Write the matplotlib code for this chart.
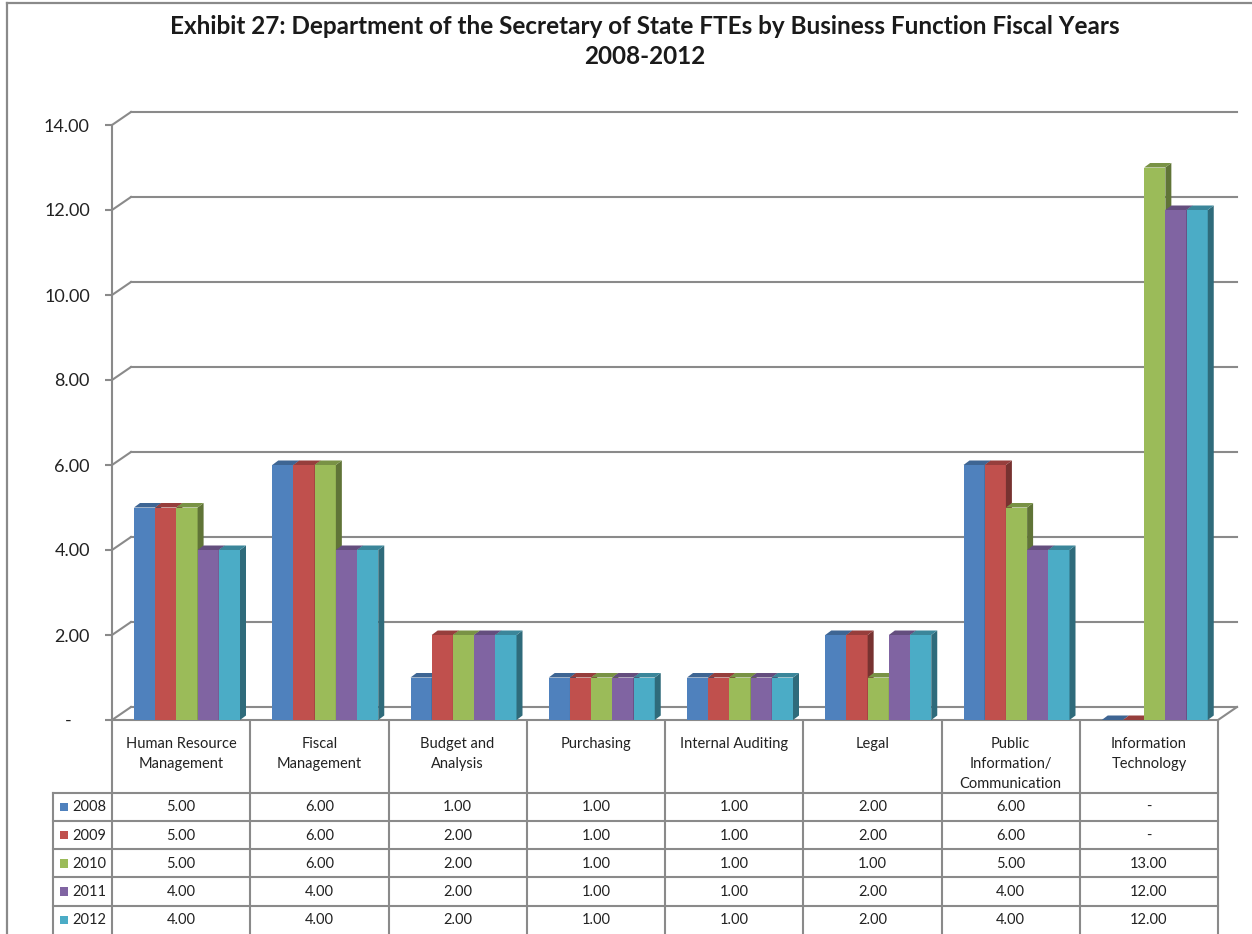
import matplotlib
matplotlib.use('Agg')
import matplotlib.pyplot as plt
from matplotlib.patches import Polygon, Rectangle
from matplotlib.lines import Line2D

# data
categories = ['Human Resource\nManagement', 'Fiscal\nManagement', 'Budget and\nAnalysis',
              'Purchasing', 'Internal Auditing', 'Legal',
              'Public\nInformation/\nCommunication', 'Information\nTechnology']
years = ['2008', '2009', '2010', '2011', '2012']
fte_2008 = [5, 6, 1, 1, 1, 2, 6, 0]
fte_2009 = [5, 6, 2, 1, 1, 2, 6, 0]
fte_2010 = [5, 6, 2, 1, 1, 1, 5, 13]
fte_2011 = [4, 4, 2, 1, 1, 2, 4, 12]
fte_2012 = [4, 4, 2, 1, 1, 2, 4, 12]
series = [fte_2008, fte_2009, fte_2010, fte_2011, fte_2012]
yticks = [0, 2, 4, 6, 8, 10, 12, 14]

colors = ['#4F81BD', '#C0504D', '#9BBB59', '#8064A2', '#4BACC6']
grey = '#8a8a8a'
plt.rcParams['font.family'] = ['Lato', 'DejaVu Sans']

W, H = 1252, 934


def px_box(x0, y0, x1, y1):
    return [x0 / W, 1 - y1 / H, (x1 - x0) / W, (y1 - y0) / H]


def shade(c, f):
    r, g, b = matplotlib.colors.to_rgb(c)
    return (r * f, g * f, b * f)


def fmt(v):
    return '-' if v == 0 else '%.2f' % v


fig = plt.figure(figsize=(W / 100, H / 100), dpi=100)

# outer frame (top and left visible)
fig.add_artist(Line2D([7 / W, 1], [1 - 3 / H, 1 - 3 / H], color=grey, lw=1.6))
fig.add_artist(Line2D([7 / W, 7 / W], [0, 1 - 3 / H], color=grey, lw=1.6))

fig.text(645 / W, 1 - 26 / H,
         'Exhibit 27: Department of the Secretary of State FTEs by Business Function Fiscal Years',
         ha='center', va='center', fontsize=17.5, fontweight='bold', color='#1a1a1a')
fig.text(645 / W, 1 - 57 / H, '2008-2012', ha='center', va='center',
         fontsize=17.5, fontweight='bold', color='#1a1a1a')

ax = fig.add_axes(px_box(112, 125, 1218, 720))
ax.set_xlim(-0.5, 7.5)
ax.set_ylim(0, 14)
for s in ['top', 'right']:
    ax.spines[s].set_visible(False)
for s in ['left', 'bottom']:
    ax.spines[s].set_color(grey)
    ax.spines[s].set_linewidth(1.5)
ax.set_xticks([])
ax.set_yticks(yticks)
ax.set_yticklabels([fmt(v) + ('    ' if v == 0 else '') for v in yticks])
ax.tick_params(axis='y', length=5, width=1.5, color=grey, labelsize=13,
               pad=11, labelcolor='#222222')

# back wall offset (3D look), in data units
ox = 19 / 138.25
oy = 13 / 42.5
for v in yticks:
    ax.plot([-0.5 + ox, 7.5 + ox], [v + oy, v + oy], color=grey, lw=1.5,
            clip_on=False, zorder=1)
    ax.plot([-0.5, -0.5 + ox], [v, v + oy], color=grey, lw=1.5,
            clip_on=False, zorder=1)
ax.plot([7.5, 7.5 + ox], [0, oy], color=grey, lw=1.5, clip_on=False, zorder=1)

# bars
bw = 21.2 / 138.25
start = 22 / 138.25
dx = 6 / 138.25
dy = 4.5 / 42.5
for j, vals in enumerate(series):
    lefts = [i - 0.5 + start + j * bw for i in range(len(categories))]
    z = 3 + j
    ax.bar(lefts, vals, width=bw, align='edge', color=colors[j],
           edgecolor='none', zorder=z, clip_on=False)
    for x0, h in zip(lefts, vals):
        x1 = x0 + bw
        ax.add_patch(Polygon([(x1, 0), (x1 + dx, dy), (x1 + dx, h + dy), (x1, h)],
                             closed=True, facecolor=shade(colors[j], 0.62),
                             edgecolor='none', zorder=z, clip_on=False))
        ax.add_patch(Polygon([(x0, h), (x1, h), (x1 + dx, h + dy), (x0 + dx, h + dy)],
                             closed=True, facecolor=shade(colors[j], 0.78),
                             edgecolor='none', zorder=z, clip_on=False))

# data table
tab = fig.add_axes(px_box(112, 722, 1218, 934))
tab.set_xlim(-0.5, 7.5)
tab.set_ylim(7.5, 0)
tab.axis('off')
head = 2.5
lab_left = -0.5 - 59 / 138.25
for k in range(len(categories) + 1):
    tab.plot([k - 0.5, k - 0.5], [0, 7.5], color=grey, lw=1.5, clip_on=False)
tab.plot([lab_left, lab_left], [head, 7.5], color=grey, lw=1.5, clip_on=False)
for r in range(len(years)):
    tab.plot([lab_left, 7.5], [head + r, head + r], color=grey, lw=1.5, clip_on=False)

for i, cat in enumerate(categories):
    tab.text(i, 0.52, cat, ha='center', va='top', fontsize=10.5,
             linespacing=1.55, color='#222222')
    for r, vals in enumerate(series):
        tab.text(i, head + r + 0.52, fmt(vals[i]), ha='center', va='center',
                 fontsize=10.5, color='#222222')

for r, yr in enumerate(years):
    yc = head + r + 0.5
    tab.add_patch(Rectangle((-0.5 - 52 / 138.25, yc - 0.15), 8 / 138.25, 0.3,
                            facecolor=colors[r], edgecolor='none', clip_on=False))
    tab.text(-0.5 - 40 / 138.25, yc + 0.02, yr, ha='left', va='center',
             fontsize=10.5, color='#222222')

fig.savefig('out.png', dpi=100)
